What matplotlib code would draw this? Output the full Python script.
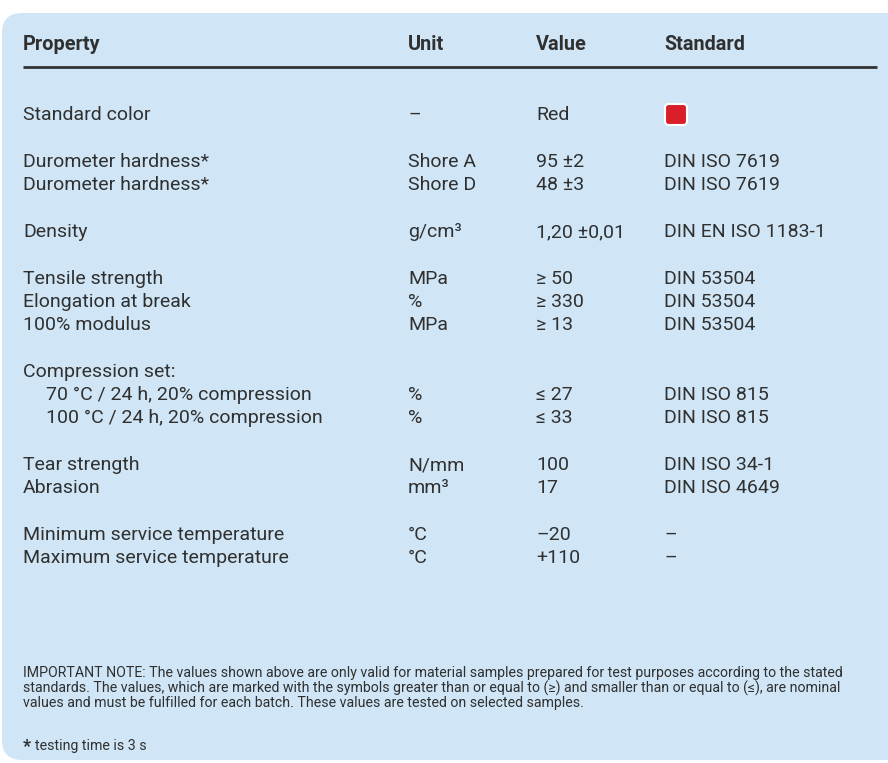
import matplotlib.pyplot as plt
from matplotlib.patches import FancyBboxPatch

plt.rcParams['font.family'] = ['Roboto', 'DejaVu Sans']

headers = ["Property", "Unit", "Value", "Standard"]

# one entry per table line; group number tells where the blank gaps go
groups = [0, 1, 1, 2, 3, 3, 3, 4, 4, 4, 5, 5, 6, 6]
properties = ["Standard color",
              "Durometer hardness*", "Durometer hardness*",
              "Density",
              "Tensile strength", "Elongation at break", "100% modulus",
              "Compression set:", "70 °C / 24 h, 20% compression", "100 °C / 24 h, 20% compression",
              "Tear strength", "Abrasion",
              "Minimum service temperature", "Maximum service temperature"]
indented = [False] * 8 + [True, True] + [False] * 4
units = ["–", "Shore A", "Shore D", "g/cm³", "MPa", "%", "MPa",
         "", "%", "%", "N/mm", "mm³", "°C", "°C"]
values = ["Red", "95 ±2", "48 ±3", "1,20 ±0,01", "≥ 50", "≥ 330", "≥ 13",
          "", "≤ 27", "≤ 33", "100", "17", "–20", "+110"]
standards = ["", "DIN ISO 7619", "DIN ISO 7619", "DIN EN ISO 1183-1",
             "DIN 53504", "DIN 53504", "DIN 53504",
             "", "DIN ISO 815", "DIN ISO 815", "DIN ISO 34-1", "DIN ISO 4649", "–", "–"]
swatch_color = "#d9202a"

note = ("IMPORTANT NOTE: The values shown above are only valid for material samples prepared for test purposes according to the stated\n"
        "standards. The values, which are marked with the symbols greater than or equal to (≥) and smaller than or equal to (≤), are nominal\n"
        "values and must be fulfilled for each batch. These values are tested on selected samples.")
footnote = "testing time is 3 s"

W, H = 888, 763
fig = plt.figure(figsize=(W / 100, H / 100), dpi=100)
ax = fig.add_axes([0, 0, 1, 1])
ax.set_xlim(0, W)
ax.set_ylim(H, 0)
ax.axis("off")

bg = "#d0e6f6"
txt = "#303030"
ax.add_patch(FancyBboxPatch((2, 13), W + 20, H - 16, boxstyle="round,pad=0,rounding_size=20",
                            fc=bg, ec="none"))

col_x = [23, 408, 536, 664]
for x, h in zip(col_x, headers):
    ax.text(x, 45, h, fontsize=14.3, fontweight="bold", color=txt, va="center", ha="left")
ax.plot([23, 877], [67, 67], color="#333333", lw=2, solid_capstyle="butt")

body = 14
row_h = 23
gap = 47
y = 115
prev = groups[0]
for i in range(len(properties)):
    if i > 0:
        y += gap if groups[i] != prev else row_h
    prev = groups[i]
    px = col_x[0] + (23 if indented[i] else 0)
    ax.text(px, y, properties[i], fontsize=body, color=txt, va="center")
    ax.text(col_x[1], y, units[i], fontsize=body, color=txt, va="center")
    ax.text(col_x[2], y, values[i], fontsize=body, color=txt, va="center")
    if standards[i]:
        ax.text(col_x[3], y, standards[i], fontsize=body, color=txt, va="center")
    if values[i] == "Red":
        ax.add_patch(FancyBboxPatch((col_x[3] + 1, y - 11), 22, 21,
                                    boxstyle="round,pad=0,rounding_size=4",
                                    fc=swatch_color, ec="white", lw=1.5))

ax.text(col_x[0], 666, note, fontsize=10.2, color=txt, va="top", ha="left", linespacing=1.03)
ax.text(col_x[0], 747, "*", fontsize=13, fontweight="bold", color=txt, va="center")
ax.text(col_x[0] + 12, 746, footnote, fontsize=10.2, color=txt, va="center")

fig.savefig("out.png", dpi=100, facecolor="white")
